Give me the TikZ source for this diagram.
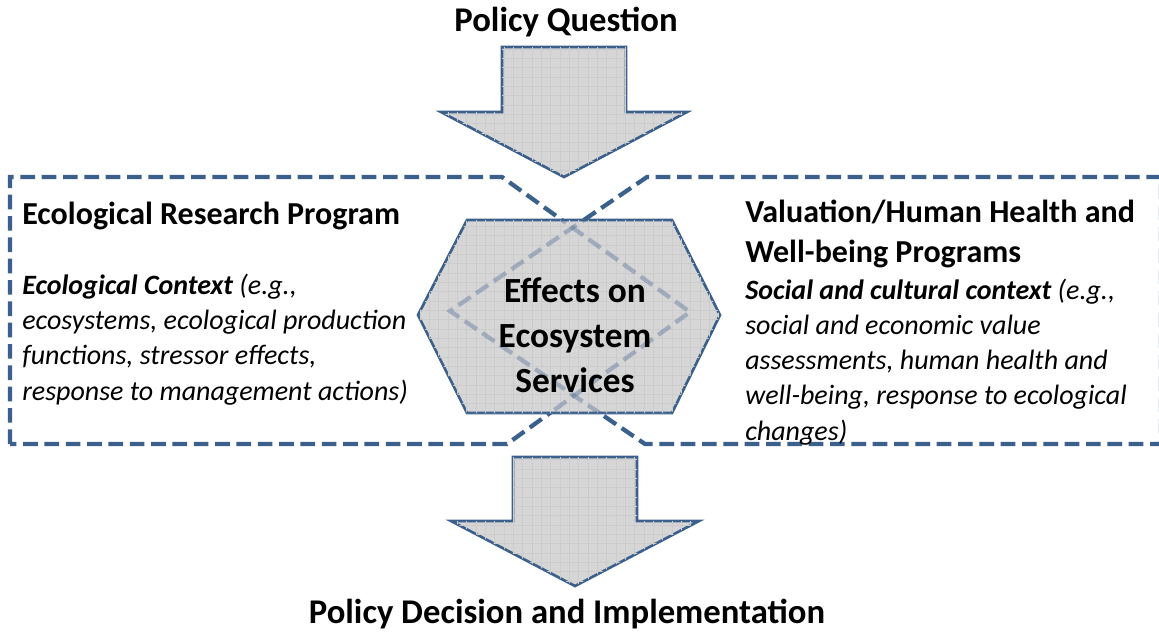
\documentclass[tikz,border=0pt]{standalone}
\usepackage{fontspec}
\setmainfont{Carlito}
\usepackage{tikz}
\usetikzlibrary{patterns.meta}

\definecolor{frameblue}{RGB}{60,96,140}
\definecolor{shapegray}{RGB}{214,214,214}

\tikzset{
	program/.style={draw=frameblue, line width=3.2pt, dash pattern=on 11pt off 5pt},
	bigshape/.style={draw=frameblue, line width=2pt, fill=shapegray,
		postaction={pattern={Lines[angle=0,distance=7pt,line width=0.5pt]}, pattern color=black!20},
		postaction={pattern={Lines[angle=90,distance=7pt,line width=0.5pt]}, pattern color=black!20}},
	title/.style={font=\fontsize{26}{31}\selectfont\bfseries, inner sep=0pt},
	heading/.style={font=\fontsize{24}{30}\selectfont\bfseries, align=left, inner sep=0pt},
	body/.style={font=\fontsize{21}{26.3}\selectfont\itshape, align=left, inner sep=0pt},
	centre/.style={font=\fontsize{26.5}{33.4}\selectfont\bfseries, align=center, inner sep=0pt},
}

\begin{document}
\begin{tikzpicture}[x=0.75pt, y=-0.75pt]
	\useasboundingbox (0,0) rectangle (1159,637);

	% hexagon corners
	\coordinate (h1) at (467,220);
	\coordinate (h2) at (672,220);
	\coordinate (h3) at (720,315);
	\coordinate (h4) at (672,413);
	\coordinate (h5) at (467,413);
	\coordinate (h6) at (418,315);

	% the two program areas
	\draw[program] (10,444) -- (10,177) -- (502,177) -- (690,312) -- (507,444) -- cycle;
	\draw[program] (1161,177) -- (647,177) -- (450,311) -- (645,444) -- (1161,444) -- cycle;

	% arrows in and out
	\draw[bigshape] (502,47) -- (626,47) -- (626,112) -- (687,112) -- (564,177)
		-- (441,112) -- (502,112) -- cycle;
	\draw[bigshape] (513,457) -- (637,457) -- (637,521) -- (699,521) -- (575,586)
		-- (451,521) -- (513,521) -- cycle;

	% hexagon, with the areas showing through
	\draw[bigshape] (h1) -- (h2) -- (h3) -- (h4) -- (h5) -- (h6) -- cycle;
	\begin{scope}
		\clip (h1) -- (h2) -- (h3) -- (h4) -- (h5) -- (h6) -- cycle;
		\draw[program, draw opacity=0.35] (502,177) -- (690,312) -- (507,444);
		\draw[program, draw opacity=0.35] (647,177) -- (450,311) -- (645,444);
	\end{scope}

	% base of a multi-line node sits on its last line
	\node[title, anchor=base] (question) at (566,31) {Policy Question};
	\node[title, anchor=base] (decision) at (567,623) {Policy Decision and Implementation};

	\node[centre, anchor=base] (effects) at (575,392) {Effects on\\Ecosystem\\Services};

	\node[heading, anchor=base west] (ecohead) at (22,224) {Ecological Research Program};
	\node[body, anchor=base west] (ecobody) at (22,400) {\textbf{Ecological Context} (e.g.,\\
		ecosystems, ecological production\\
		functions, stressor effects,\\
		response to management actions)};

	\node[heading, anchor=base west] (valhead) at (745,262) {Valuation/Human Health and\\
		Well-being Programs};
	\node[body, anchor=base west] (valbody) at (745,440) {\textbf{Social and cultural context} (e.g.,\\
		social and economic value\\
		assessments, human health and\\
		well-being, response to ecological\\
		changes)};
\end{tikzpicture}
\end{document}
